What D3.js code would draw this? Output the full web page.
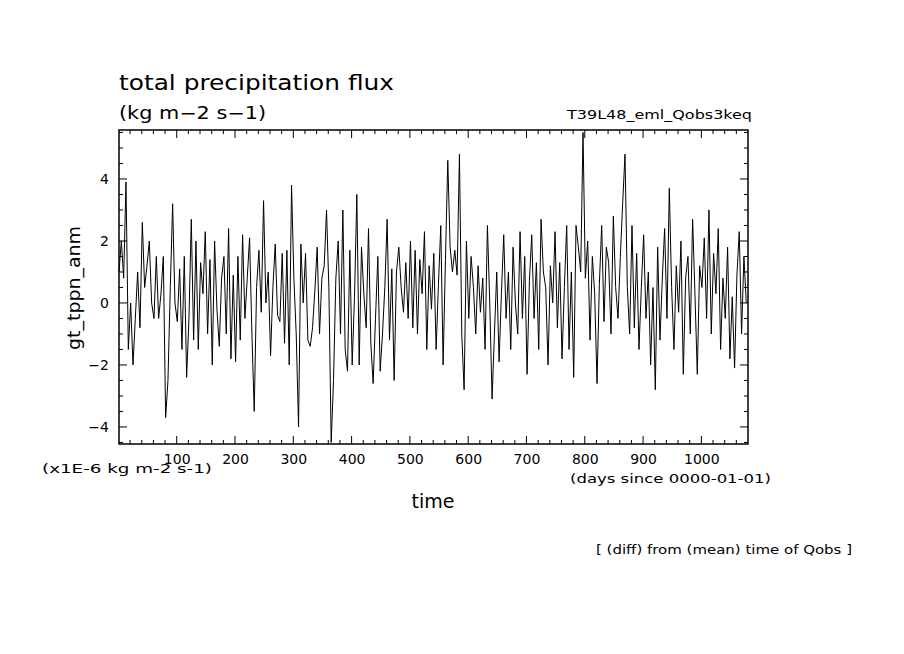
<!DOCTYPE html>
<html><head><meta charset="utf-8">
<script src="https://cdn.jsdelivr.net/npm/d3@7"></script>
<style>body{margin:0;background:#fff}text{font-family:"DejaVu Sans",sans-serif}</style>
</head><body>
<script>
const startDay = 1, stepDays = 4;
const values = [
1,2,0.8,3.9,-1.5,0,-2,-0.5,1,-0.8,2.6,0.5,1.2,2,0,-0.5,1.5,-0.5,0.3,1.5,-3.7,-2.5,0.5,3.2,0,
-0.6,1.1,-1.5,1.5,-2.4,-0.5,2.7,-1.2,2.0,-1.5,1.3,0.3,2.3,-1.0,1.4,-2,2.0,-0.2,-1.4,0.8,1.5,-1.0,2.4,-1.8,0.9,
-1.9,1.5,-1.2,2.2,-0.5,0.8,2.1,-1.0,-3.5,0.5,1.7,-0.3,3.3,0,1.0,-1.7,0.5,1.9,-0.4,-0.6,1.6,-1.3,1.7,-2.0,3.8,
0.8,-1.0,-4.0,1.9,0.0,1.6,-1.2,-1.4,-0.8,0.4,1.8,-1.0,0.8,1.2,3.0,0.5,-4.5,-2.5,0.8,2.0,-1.0,3.0,-1.5,-2.2,1.7,
-2.0,0.2,3.5,-2.0,1.8,0.3,-0.8,2.4,-1.3,-2.6,-0.5,1.5,-2.2,-1.0,0.5,2.7,-1.2,1.1,-2.5,1.0,1.8,0.5,-0.3,1.3,-0.5,
2.0,-0.8,1.7,-1.0,1.4,0.3,2.3,-1.5,1.2,-0.2,1.6,-1.5,0.6,2.5,-2.0,1.4,4.6,1.8,1.0,1.7,0.9,4.8,-1.0,-2.8,2.0,
-0.5,1.5,0.5,-1.0,1.2,-0.3,0.8,-1.5,2.5,0,-3.1,-1.0,1.0,-1.9,0.3,2.2,-0.5,1.0,-1.5,1.8,0.0,-1.0,2.3,-0.5,1.5,
-2.3,0.7,2.2,-0.5,1.3,-1.5,2.7,1.0,0.5,-2.0,1.2,0.0,2.3,-0.8,1.3,-1.8,0.5,2.5,-1.5,1.0,-2.4,2.5,1.8,1.0,5.5,
0.8,2.0,-1.2,1.5,0.3,-2.6,0.6,2.5,-0.6,1.8,1.3,-1.0,2.8,0.5,-0.5,1.5,3.2,4.8,0.5,-1.0,2.5,-0.8,1.6,-1.5,0.5,
2.2,-0.5,1.0,-2.0,0.5,-2.8,1.8,-1.2,0.8,2.4,-0.5,3.7,0.5,-1.5,1.2,-0.3,2.0,-2.3,0.8,1.5,-1.0,2.7,0.3,-2.3,1.2,
0.5,2.1,-0.5,3.0,-1.0,1.6,0.3,2.4,-1.5,0.8,-0.5,1.8,-1.8,0.2,-2.1,0.9,2.3,-1.0,1.5,0.0
];
const xTicks = [100,200,300,400,500,600,700,800,900,1000];
const yTicks = [-4,-2,0,2,4];

const svg = d3.select("body").append("svg").attr("width",904).attr("height",654);
const L=119,R=748,T=130,B=444;
const x = d3.scaleLinear().domain([1,1080]).range([L,R]);
const y = d3.scaleLinear().domain([-4.55,5.58]).range([B,T]);

const line = d3.line().x((d,i)=>x(startDay+i*stepDays)).y(d=>y(d));
svg.append("path").datum(values).attr("d",line).attr("fill","none").attr("stroke","#000").attr("stroke-width",1);

svg.append("rect").attr("x",L).attr("y",T).attr("width",R-L).attr("height",B-T).attr("fill","none").attr("stroke","#000").attr("stroke-width",1.5);

const xMinor = d3.range(20,1080,20), yMinor = d3.range(-4.5,5.6,0.5);
const g=svg.append("g");
const ga=g.append("g").attr("transform",`translate(0,${B})`).call(d3.axisBottom(x).tickValues(xTicks).tickSize(0).tickFormat(d3.format("d")));
ga.select(".domain").remove();
ga.selectAll("text").attr("y",9).attr("dy","0.75em").style("font-size","14px");
const gl=g.append("g").attr("transform",`translate(${L},0)`).call(d3.axisLeft(y).tickValues(yTicks).tickSize(0).tickFormat(d3.format("d")));
gl.select(".domain").remove();
gl.selectAll("text").attr("x",-10).style("font-size","14px");
xMinor.forEach(v=>{const len=xTicks.includes(v)?8:4;
  g.append("line").attr("x1",x(v)).attr("x2",x(v)).attr("y1",B).attr("y2",B-len).attr("stroke","#000");
  g.append("line").attr("x1",x(v)).attr("x2",x(v)).attr("y1",T).attr("y2",T+len).attr("stroke","#000");});
yMinor.forEach(v=>{const len=yTicks.includes(v)?8:4;
  g.append("line").attr("x1",L).attr("x2",L+len).attr("y1",y(v)).attr("y2",y(v)).attr("stroke","#000");
  g.append("line").attr("x1",R).attr("x2",R-len).attr("y1",y(v)).attr("y2",y(v)).attr("stroke","#000");});

const t=(x0,y0,s,size,w,anchor="start")=>svg.append("text").attr("x",x0).attr("y",y0).attr("font-size",size).attr("text-anchor",anchor)
  .attr("textLength",w).attr("lengthAdjust","spacingAndGlyphs").text(s);
t(119,90,"total precipitation flux","22px",275);
t(119,119,"(kg m−2 s−1)","17px",147);
t(752,119,"T39L48_eml_Qobs3keq","13px",185,"end");
t(433,508,"time","19px",43,"middle");
t(42,473,"(x1E-6 kg m-2 s-1)","13px",170);
t(570,483,"(days since 0000-01-01)","13px",201);
t(596,554,"[ (diff) from (mean) time of Qobs ]","13px",256);
svg.append("text").attr("transform","translate(80,288) rotate(-90)").attr("text-anchor","middle").attr("font-size","18px")
  .attr("textLength",124).attr("lengthAdjust","spacingAndGlyphs").text("gt_tppn_anm");
</script>
</body></html>
